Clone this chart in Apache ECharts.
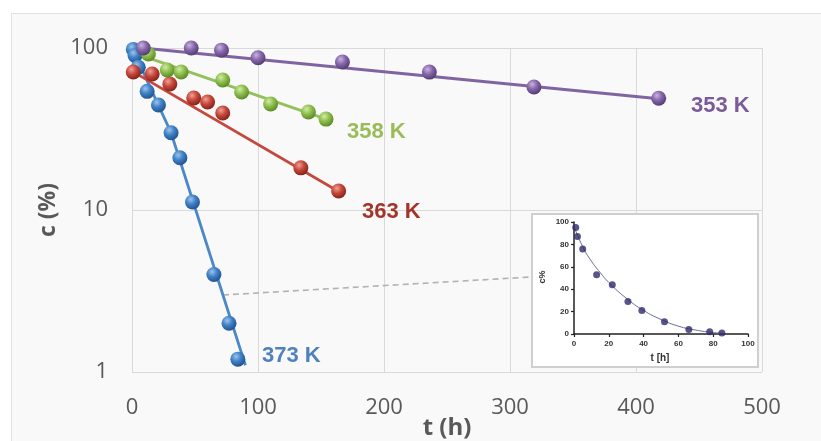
<!DOCTYPE html>
<html>
<head>
<meta charset="utf-8">
<script src="https://cdn.jsdelivr.net/npm/echarts@6/dist/echarts.min.js"></script>
<style>
  html, body { margin: 0; padding: 0; background: #ffffff; }
  #frame { position: absolute; left: 11px; top: 13px; width: 830px; height: 450px; background: #f9f9f9; border: 1.5px solid #e2e2e2; }
  #chart { position: absolute; left: 0; top: 0; width: 821px; height: 441px; }
</style>
</head>
<body>
<div id="frame"></div>
<div id="chart"></div>
<script>
// ---- main chart data (t in h, c in %) ----
const xTicks = [0, 100, 200, 300, 400, 500];
const yTicks = [1, 10, 100];

const t353 = [9, 47, 71, 100, 167, 236, 319, 418];
const c353 = [100, 100, 97, 87, 82, 71, 57.5, 49];
const t358 = [13, 28, 39, 72, 87, 110, 140, 154];
const c358 = [91.8, 73.2, 71.1, 63.4, 53.5, 45.1, 40.3, 36.4];
const t363 = [1, 16, 30, 49, 60, 72, 134, 164];
const c363 = [71.1, 69.1, 59.9, 49.1, 46.4, 39.7, 18.2, 13.1];
const t373 = [1, 2.4, 5, 12, 21, 31, 38, 48, 65, 77, 84];
const c373 = [98, 90, 76, 54, 44.5, 30, 21, 11.2, 4, 2, 1.2];

// trend lines
const fitT353 = [8, 418];
const fitC353 = [100, 48.6];
const fitT358 = [2, 154];
const fitC358 = [93, 36.4];
const fitT363 = [0, 164];
const fitC363 = [72, 13];
const fitT373 = [0, 31, 90];
const fitC373 = [100, 30, 1.1];

// ---- inset data ----
const tIn = [1, 2, 5, 13, 22, 31, 39, 52, 66, 78, 85];
const cIn = [95, 87, 76, 53, 44, 29, 21, 11, 4, 2, 1];
const tCurve = [0, 5, 10, 15, 20, 30, 40, 50, 60, 70, 80, 85];
const cCurve = [96, 78, 65, 55, 46, 32, 21, 13, 7, 3.5, 1.3, 0.8];
const insetTicks = [0, 20, 40, 60, 80, 100];

const labels = ['353 K', '358 K', '363 K', '373 K'];

function pairs(a, b) { return a.map((v, i) => [v, b[i]]); }
function ball(light, base, dark) {
  return {
    type: 'radial', x: 0.38, y: 0.32, r: 0.75,
    colorStops: [
      { offset: 0, color: light },
      { offset: 0.45, color: base },
      { offset: 1, color: dark }
    ]
  };
}

const cols = {
  p: { line: '#8064a2', label: '#7b5a9a', ball: ball('#c9b3e0', '#8567a9', '#4d356b') },
  g: { line: '#93c05a', label: '#9bbb59', ball: ball('#d3eaa8', '#8dbf4c', '#557f22') },
  r: { line: '#c4483d', label: '#a3342a', ball: ball('#eea196', '#c7473b', '#7a1d15') },
  b: { line: '#4a88c8', label: '#4f81bd', ball: ball('#9cc4ee', '#3f80c6', '#1d4c86') }
};

const chart = echarts.init(document.getElementById('chart'), null, { renderer: 'canvas' });

const tickFont = { fontFamily: 'Open Sans', fontSize: 22, color: '#595959' };
const insetFont = { fontFamily: 'Liberation Sans', fontSize: 8, fontWeight: 'bold', color: '#333' };

function fitSeries(t, c, color) {
  return {
    type: 'line', xAxisIndex: 0, yAxisIndex: 0, data: pairs(t, c),
    showSymbol: false, symbol: 'none', silent: true, z: 2,
    lineStyle: { color: color, width: 2.8 }
  };
}
function dotSeries(t, c, fill) {
  return {
    type: 'scatter', xAxisIndex: 0, yAxisIndex: 0, data: pairs(t, c),
    symbolSize: 15, z: 3, silent: true,
    itemStyle: { color: fill, opacity: 1 }
  };
}

const option = {
  animation: false,
  backgroundColor: 'transparent',
  grid: [
    { left: 132, top: 48, width: 630, height: 324 },
    { left: 574, top: 222, width: 174, height: 112, z: 10 }
  ],
  xAxis: [
    {
      gridIndex: 0, type: 'value', min: xTicks[0], max: xTicks[xTicks.length - 1], interval: 100,
      axisLine: { show: false }, axisTick: { show: false },
      axisLabel: Object.assign({ margin: 25 }, tickFont),
      splitLine: { show: true, lineStyle: { color: '#d9d9d9', width: 1 } }
    },
    {
      gridIndex: 1, type: 'value', min: insetTicks[0], max: insetTicks[insetTicks.length - 1], interval: 20, z: 10,
      axisLine: { show: true, lineStyle: { color: '#222', width: 1.5 } },
      axisTick: { show: true, length: 3, lineStyle: { color: '#222', width: 1.2 } },
      axisLabel: Object.assign({ margin: 6 }, insetFont),
      splitLine: { show: false }
    }
  ],
  yAxis: [
    {
      gridIndex: 0, type: 'log', logBase: 10, min: yTicks[0], max: yTicks[yTicks.length - 1],
      axisLine: { show: false }, axisTick: { show: false },
      axisLabel: Object.assign({ margin: 24 }, tickFont),
      splitLine: { show: true, lineStyle: { color: '#d9d9d9', width: 1 } }
    },
    {
      gridIndex: 1, type: 'value', min: insetTicks[0], max: insetTicks[insetTicks.length - 1], interval: 20, z: 10,
      axisLine: { show: true, lineStyle: { color: '#222', width: 1.5 } },
      axisTick: { show: true, length: 3, lineStyle: { color: '#222', width: 1.2 } },
      axisLabel: Object.assign({ margin: 5 }, insetFont),
      splitLine: { show: false }
    }
  ],
  graphic: [
    { type: 'line', z: 1, silent: true, shape: { x1: 223, y1: 295, x2: 531, y2: 277 },
      style: { stroke: '#b3b3b3', lineWidth: 1.6, lineDash: [6, 4] } },
    { type: 'rect', z: 5, silent: true, shape: { x: 532, y: 214, width: 226, height: 153 },
      style: { fill: '#ffffff', stroke: '#cfcfcf', lineWidth: 2 } },
    { type: 'text', z: 12, left: 691, top: 95, style: { text: labels[0], font: 'bold 22px "Liberation Sans"', fill: cols.p.label } },
    { type: 'text', z: 12, left: 347, top: 121, style: { text: labels[1], font: 'bold 22px "Liberation Sans"', fill: cols.g.label } },
    { type: 'text', z: 12, left: 362, top: 201, style: { text: labels[2], font: 'bold 22px "Liberation Sans"', fill: cols.r.label } },
    { type: 'text', z: 12, left: 262, top: 345, style: { text: labels[3], font: 'bold 22px "Liberation Sans"', fill: cols.b.label } },
    { type: 'text', z: 12, x: 447, y: 428, style: { text: 't (h)', font: 'bold 24px "Open Sans"', fill: '#595959', textAlign: 'center', textVerticalAlign: 'middle' } },
    { type: 'text', z: 12, x: 48, y: 210, rotation: Math.PI / 2, style: { text: 'c (%)', font: 'bold 23px "Open Sans"', fill: '#595959', textAlign: 'center', textVerticalAlign: 'middle' } },
    { type: 'text', z: 12, x: 660, y: 358, style: { text: 't [h]', font: 'bold 10px "Liberation Sans"', fill: '#333', textAlign: 'center', textVerticalAlign: 'middle' } },
    { type: 'text', z: 12, x: 543, y: 277, rotation: Math.PI / 2, style: { text: 'c%', font: 'bold 9px "Liberation Sans"', fill: '#333', textAlign: 'center', textVerticalAlign: 'middle' } }
  ],
  series: [
    fitSeries(fitT373, fitC373, cols.b.line),
    dotSeries(t373, c373, cols.b.ball),
    fitSeries(fitT363, fitC363, cols.r.line),
    dotSeries(t363, c363, cols.r.ball),
    fitSeries(fitT358, fitC358, cols.g.line),
    dotSeries(t358, c358, cols.g.ball),
    fitSeries(fitT353, fitC353, cols.p.line),
    dotSeries(t353, c353, cols.p.ball),
    {
      type: 'line', xAxisIndex: 1, yAxisIndex: 1, data: pairs(tCurve, cCurve), smooth: true,
      showSymbol: false, symbol: 'none', z: 11, silent: true,
      lineStyle: { color: '#6a6a9a', width: 1 }
    },
    {
      type: 'scatter', xAxisIndex: 1, yAxisIndex: 1, data: pairs(tIn, cIn), symbolSize: 7, z: 12, silent: true,
      itemStyle: { color: '#2f2b6b' }
    }
  ]
};
chart.setOption(option);
</script>
</body>
</html>
